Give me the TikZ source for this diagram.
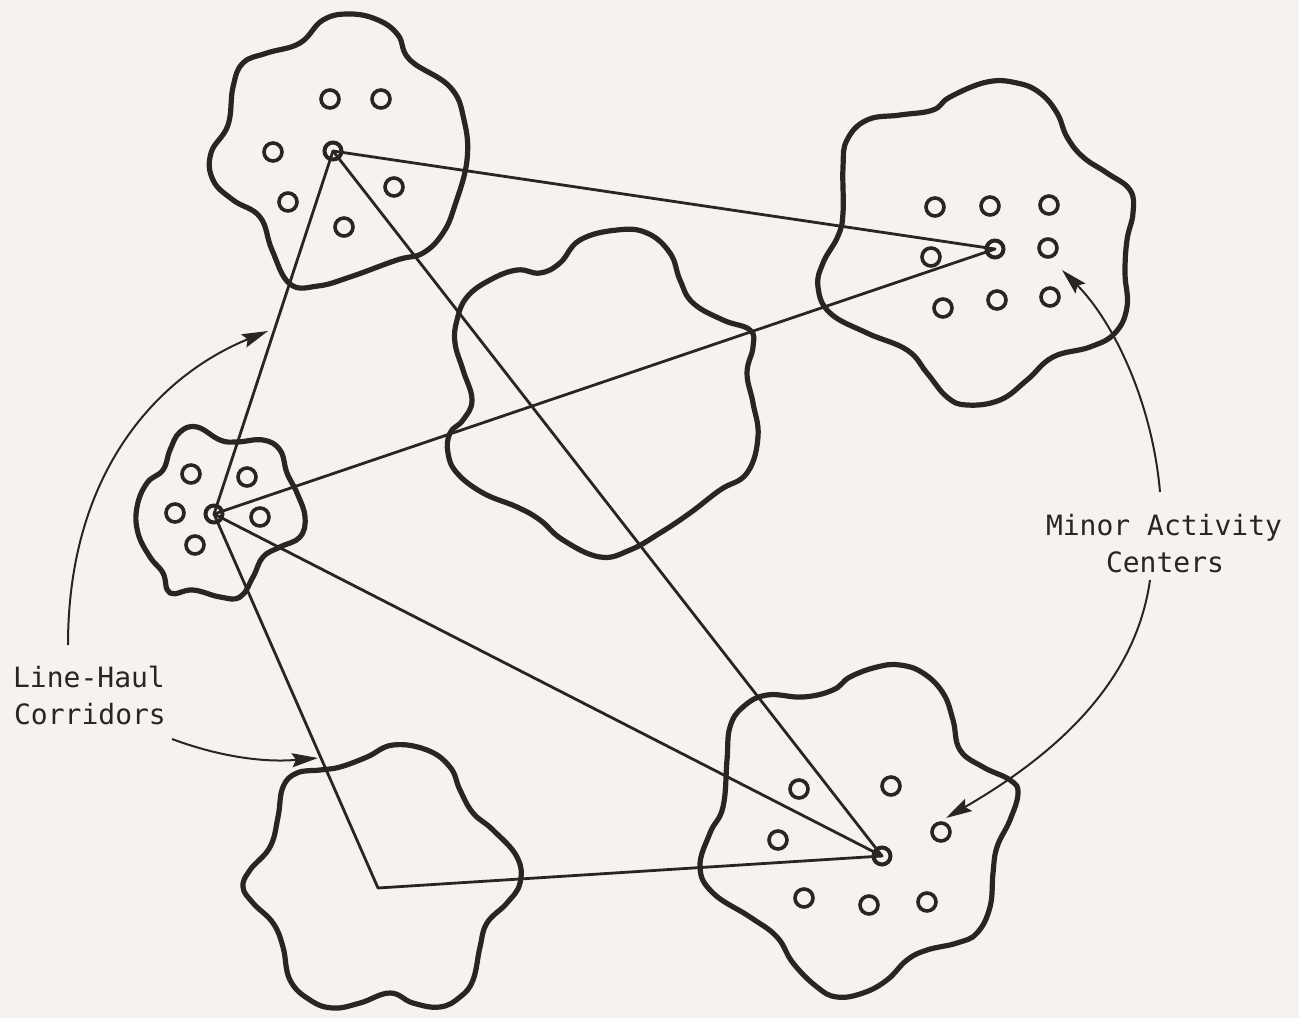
\documentclass[tikz,border=0pt]{standalone}
\usepackage{fontspec}
\setmonofont{DejaVu Sans Mono}
\usetikzlibrary{arrows.meta}
\definecolor{ink}{RGB}{42,37,37}
\definecolor{paper}{RGB}{246,242,237}
\begin{document}
\begin{tikzpicture}[x=1pt,y=-1pt,
  blob/.style={draw=ink,line width=5.2pt,line join=round},
  corr/.style={draw=ink,line width=2.8pt,line cap=round},
  act/.style={circle,draw=ink,line width=3.6pt,minimum size=18pt,inner sep=0pt},
  hub/.style={circle,draw=ink,line width=4pt,minimum size=17pt,inner sep=0pt},
  lbl/.style={font=\ttfamily\fontsize{28}{34}\selectfont,text=ink,anchor=base,inner sep=0pt},
  callout/.style={draw=ink,line width=2pt,-{Stealth[length=26pt,width=14pt,inset=4pt]}}]
\fill[paper] (0,0) rectangle (1299,1018);
\useasboundingbox (0,0) rectangle (1299,1018);

% ---- activity areas (blobs)
% top-left
\draw[blob] plot[smooth cycle,tension=0.7] coordinates {
 (323,20) (350,14) (378,20) (398,35) (410,60) (450,87) (464,120) (467,160)
 (455,205) (443,233) (423,253) (397,260) (350,277) (318,286) (290,284)
 (272,250) (260,217) (233,200) (213,180) (211,153) (228,125) (233,87)
 (243,63) (267,53) (300,43)};
% top-right
\draw[blob] plot[smooth cycle,tension=0.7] coordinates {
 (987,82) (950,97) (933,110) (900,115) (867,120) (847,140) (843,167)
 (843,213) (838,236) (823,263) (818,287) (830,313) (867,333) (907,350)
 (927,373) (947,397) (967,405) (1000,400) (1027,380) (1053,357) (1090,347)
 (1115,333) (1127,307) (1125,273) (1127,240) (1133,213) (1130,190)
 (1107,173) (1083,157) (1067,137) (1057,113) (1040,93) (1017,83)};
% small left
\draw[blob] plot[smooth cycle,tension=0.7] coordinates {
 (197,427) (220,440) (237,442) (263,440) (280,450) (287,473) (297,493)
 (305,517) (300,537) (280,547) (263,557) (253,577) (240,597) (220,597)
 (193,590) (170,593) (163,573) (150,557) (138,533) (137,507) (147,483)
 (163,470) (170,450) (180,432)};
% middle
\draw[blob] plot[smooth cycle,tension=0.7] coordinates {
 (617,230) (580,240) (560,263) (540,273) (517,270) (490,280) (467,297)
 (457,320) (455,343) (463,370) (472,400) (463,420) (450,433) (448,453)
 (457,473) (483,493) (517,507) (540,520) (563,540) (600,557) (630,550)
 (660,533) (690,513) (720,490) (747,473) (758,437) (753,403) (747,373)
 (753,347) (750,330) (723,320) (693,303) (680,280) (670,253) (647,233)};
% bottom-left
\draw[blob] plot[smooth cycle,tension=0.7] coordinates {
 (393,745) (367,757) (340,767) (320,770) (297,773) (283,787) (278,817)
 (270,847) (250,870) (243,887) (253,903) (273,923) (283,947) (290,980)
 (310,1000) (333,1008) (360,1003) (390,993) (413,1003) (440,1007)
 (460,997) (473,980) (480,947) (487,923) (507,903) (520,883) (517,857)
 (493,830) (473,813) (460,790) (450,767) (427,750)};
% bottom-right
\draw[blob] plot[smooth cycle,tension=0.7] coordinates {
 (877,667) (850,677) (833,690) (803,697) (767,695) (743,707) (730,727)
 (727,760) (723,807) (710,833) (700,867) (713,893) (750,917) (777,937)
 (793,963) (817,987) (837,997) (863,993) (887,980) (907,960) (927,950)
 (957,943) (977,933) (990,907) (993,873) (997,847) (1010,820) (1018,793)
 (1010,780) (983,767) (960,750) (953,720) (943,693) (923,673) (900,665)};

% ---- minor activity centers
\foreach \p [count=\i] in {(330,99),(381,99),(273,152),(288,202),(394,187),(344,227),
  (935,207),(990,206),(1049,205),(931,257),(1048,248),(943,308),(997,300),(1050,297),
  (191,474),(247,477),(175,513),(260,517),(195,545),
  (799,789),(891,786),(778,840),(941,832),(804,898),(869,905),(927,902)}
  \node[act] (m\i) at \p {};

% ---- major hubs
\node[hub] (A) at (333,151) {};
\node[hub] (B) at (995,249) {};
\node[hub] (C) at (214,514) {};
\node[hub] (E) at (882,856) {};
\coordinate (D) at (378,888);

% ---- line-haul corridors
\draw[corr] (A.center) -- (B.center);
\draw[corr] (A.center) -- (C.center);
\draw[corr] (A.center) -- (E.center);
\draw[corr] (C.center) -- (B.center);
\draw[corr] (C.center) -- (E.center);
\draw[corr,line join=round] (C.center) -- (D) -- (E.center);

% ---- labels
\node[lbl] (lh1) at (89,687) {Line-Haul};
\node[lbl] (lh2) at (90,724) {Corridors};
\node[lbl] (ma1) at (1164,535) {Minor Activity};
\node[lbl] (ma2) at (1165,572) {Centers};

% ---- callout arrows
\coordinate (s1) at (68,645);  \coordinate (t1) at (268,331);
\coordinate (s2) at (172,739); \coordinate (t2) at (318,758);
\coordinate (s3) at (1160,492); \coordinate (t3) at (1062,270);
\coordinate (s4) at (1150,580); \coordinate (t4) at (946,818);
\draw[callout] (s1) .. controls (68,470) and (160,375) .. (t1);
\draw[callout] (s2) .. controls (215,755) and (260,763) .. (t2);
\draw[callout] (s3) .. controls (1152,400) and (1112,320) .. (t3);
\draw[callout] (s4) .. controls (1136,680) and (1060,752) .. (t4);
\end{tikzpicture}
\end{document}
